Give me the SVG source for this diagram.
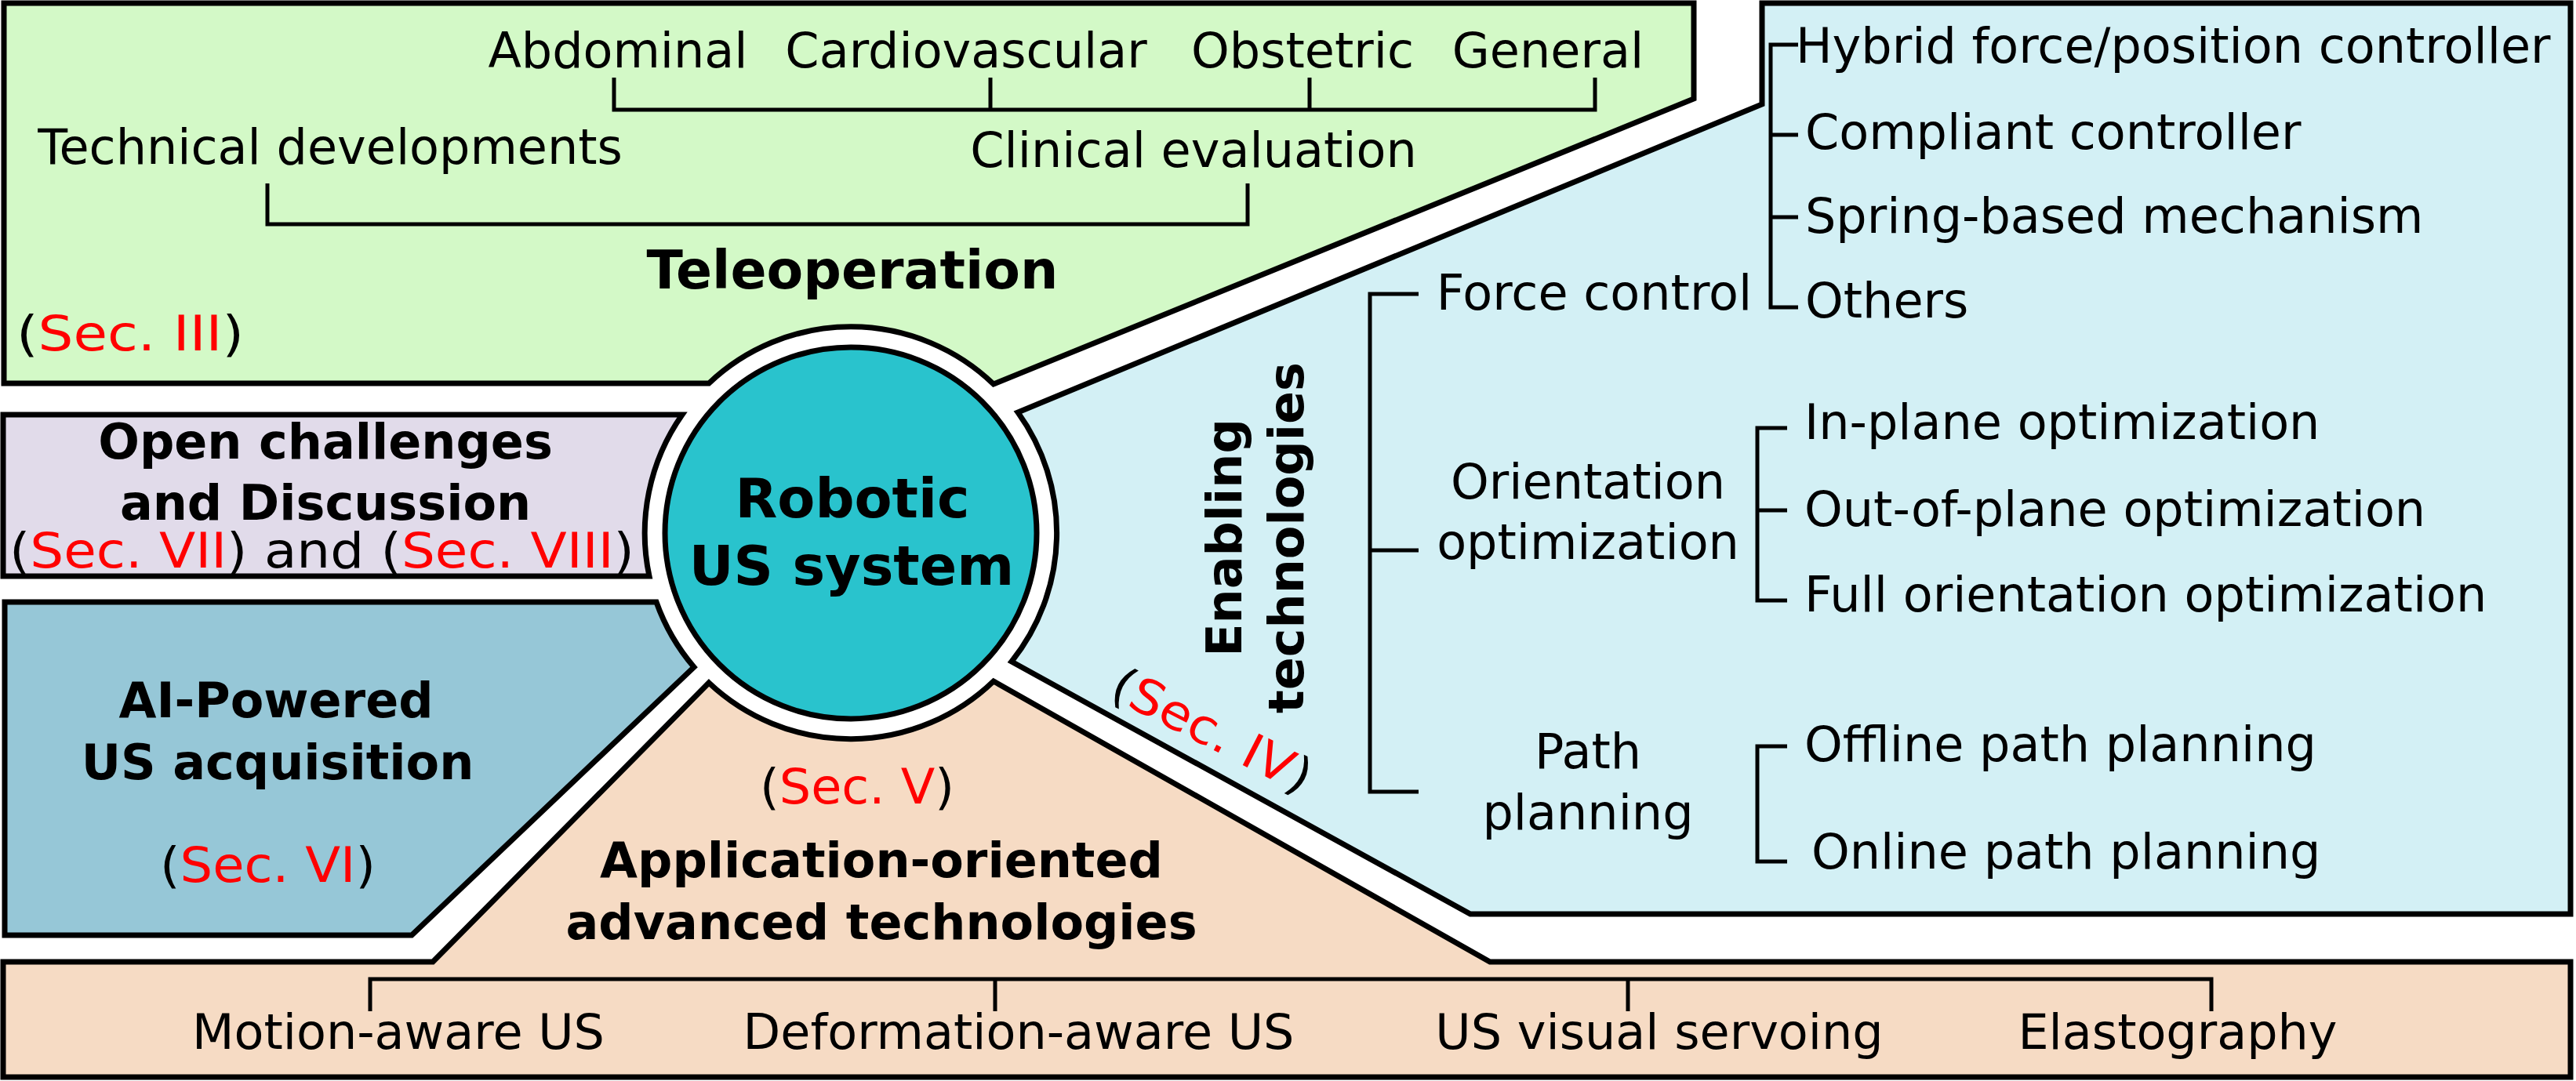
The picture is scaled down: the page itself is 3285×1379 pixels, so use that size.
<svg xmlns="http://www.w3.org/2000/svg" width="3285" height="1379" viewBox="0 0 3285 1379">
<style>
.panel{stroke:#000;stroke-width:7;stroke-linejoin:miter}
.t{font-family:"DejaVu Sans",Verdana,sans-serif;font-size:62px;fill:#000}
.b{font-weight:bold}
.m{text-anchor:middle}
.big{font-size:68px}
.huge{font-size:70px}
.red{fill:#ff0000}
.br{fill:none;stroke:#000;stroke-width:5}
</style>
<rect width="3285" height="1379" fill="#ffffff"/>

<g id="teleoperation">
<path class="panel" fill="#d3f9c7" d="M5,4 H2160 V126 L1267,490 A263,263 0 0 0 904,489 H5 Z"/>
<text class="t m" x="788" y="86">Abdominal</text>
<text class="t m" x="1232" y="86">Cardiovascular</text>
<text class="t m" x="1661" y="86">Obstetric</text>
<text class="t m" x="1974" y="86">General</text>
<text class="t m" x="421" y="209">Technical developments</text>
<text class="t m" x="1522" y="213">Clinical evaluation</text>
<text class="t b m big" x="1087" y="368">Teleoperation</text>
<text class="t" x="21" y="447" textLength="290" lengthAdjust="spacingAndGlyphs">(<tspan class="red">Sec. III</tspan>)</text>
</g>

<g id="enabling">
<path class="panel" fill="#d3f0f5" d="M2247,4 H3278 V1166 H1875 L1290,844 A263,263 0 0 0 1298,526 L2247,133 Z"/>
<text class="t b m" transform="translate(1583,686) rotate(-90)">Enabling</text>
<text class="t b m" transform="translate(1662,686) rotate(-90)">technologies</text>
<text class="t m" transform="translate(1536,951) rotate(27)" textLength="278" lengthAdjust="spacingAndGlyphs">(<tspan class="red">Sec. IV</tspan>)</text>
<text class="t m" x="2033" y="395">Force control</text>
<text class="t m" x="2025" y="636">Orientation</text>
<text class="t m" x="2025" y="713">optimization</text>
<text class="t m" x="2025" y="980">Path</text>
<text class="t m" x="2025" y="1058">planning</text>
<text class="t" x="2290" y="80">Hybrid force/position controller</text>
<text class="t" x="2302" y="190">Compliant controller</text>
<text class="t" x="2302" y="297">Spring-based mechanism</text>
<text class="t" x="2302" y="405">Others</text>
<text class="t" x="2301" y="560">In-plane optimization</text>
<text class="t" x="2301" y="671">Out-of-plane optimization</text>
<text class="t" x="2301" y="780">Full orientation optimization</text>
<text class="t" x="2301" y="971">Offline path planning</text>
<text class="t" x="2310" y="1108">Online path planning</text>
</g>

<g id="open-challenges">
<path class="panel" fill="#e1dbea" d="M4,529 H870 A263,263 0 0 0 828,735 H4 Z"/>
<text class="t b m" x="415" y="585">Open challenges</text>
<text class="t b m" x="415" y="663">and Discussion</text>
<text class="t" x="12" y="724" textLength="797" lengthAdjust="spacingAndGlyphs">(<tspan class="red">Sec. VII</tspan>) and (<tspan class="red">Sec. VIII</tspan>)</text>
</g>

<g id="ai-powered">
<path class="panel" fill="#96c7d7" d="M6,768 H837 A263,263 0 0 0 885,851 L525,1193 H6 Z"/>
<text class="t b m" x="352" y="915">AI-Powered</text>
<text class="t b m" x="354" y="994">US acquisition</text>
<text class="t" x="204" y="1125" textLength="275" lengthAdjust="spacingAndGlyphs">(<tspan class="red">Sec. VI</tspan>)</text>
</g>

<g id="application">
<path class="panel" fill="#f6dbc4" d="M4,1227 H552 L904,871 A263,263 0 0 0 1267,869 L1900,1227 H3278 V1374 H4 Z"/>
<text class="t" x="969" y="1025" textLength="248" lengthAdjust="spacingAndGlyphs">(<tspan class="red">Sec. V</tspan>)</text>
<text class="t b m" x="1124" y="1119">Application-oriented</text>
<text class="t b m" x="1124" y="1198">advanced technologies</text>
<text class="t m" x="508" y="1338">Motion-aware US</text>
<text class="t m" x="1299" y="1338">Deformation-aware US</text>
<text class="t m" x="2116" y="1338">US visual servoing</text>
<text class="t m" x="2777" y="1338">Elastography</text>
</g>

<g id="robotic-us-system">
<circle cx="1085" cy="680" r="237" fill="#29c3cd" stroke="#000" stroke-width="7"/>
<text class="t b m huge" x="1087" y="660">Robotic</text>
<text class="t b m huge" x="1086" y="746">US system</text>
</g>

<g id="connectors">
<path class="br" d="M783,99 V140 H2034 V99 M1263,99 V140 M1670,99 V140"/>
<path class="br" d="M341,234 V286 H1591 V234"/>
<path class="br" d="M1809,375 H1747 V1010 H1809 M1747,702 H1809"/>
<path class="br" d="M2293,57 H2258 V392 H2293 M2258,172 H2293 M2258,277 H2293"/>
<path class="br" d="M2279,546 H2241 V766 H2279 M2241,651 H2279"/>
<path class="br" d="M2279,952 H2241 V1099 H2279"/>
<path class="br" d="M472,1290 V1249 H2820 V1290 M1269,1249 V1290 M2076,1249 V1290"/>
</g>
</svg>
